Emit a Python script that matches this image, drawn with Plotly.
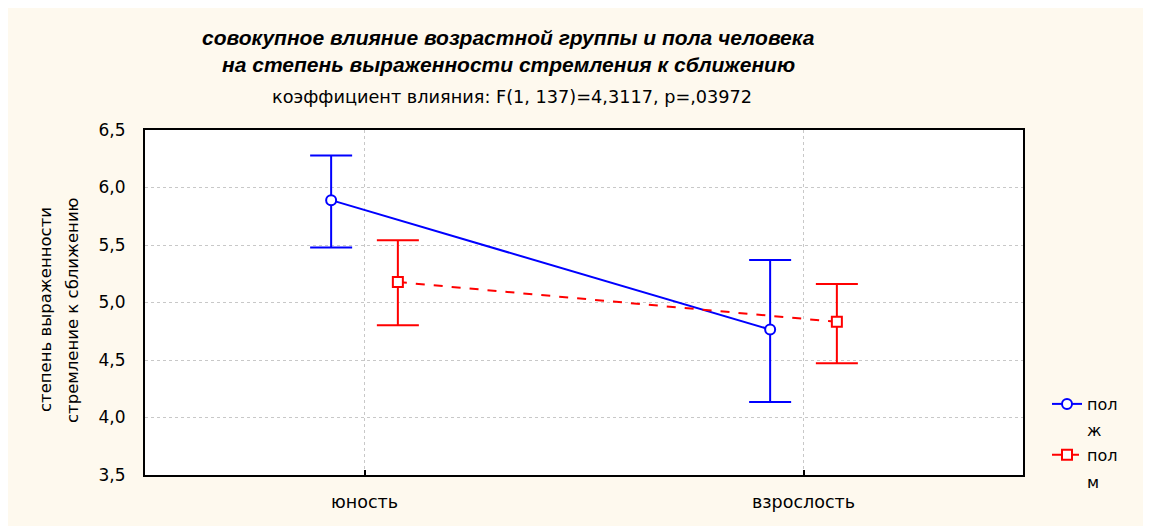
import plotly.graph_objects as go

categories = ["юность", "взрослость"]
legend_names = ["пол", "пол"]
legend_sub = ["ж", "м"]
female_mean = [5.89, 4.765]
female_upper = [6.278, 5.37]
female_lower = [5.478, 4.134]
male_mean = [5.178, 4.832]
male_upper = [5.542, 5.16]
male_lower = [4.803, 4.471]
y_ticks = [3.5, 4.0, 4.5, 5.0, 5.5, 6.0, 6.5]
y_tick_text = ["3,5", "4,0", "4,5", "5,0", "5,5", "6,0", "6,5"]
title_lines = ["совокупное влияние возрастной группы и пола человека",
               "на степень выраженности стремления к сближению"]
subtitle = "коэффициент влияния: F(1, 137)=4,3117, p=,03972"
ytitle_lines = ["степень выраженности", "стремление к сближению"]

FONT = "DejaVu Sans, Liberation Sans, sans-serif"
TFONT = "Liberation Sans, Arial, sans-serif"
offset = 0.076
cat_idx = list(range(len(categories)))

fig = go.Figure()

def add_series(means, upper, lower, name, group, color, symbol, dash, shift):
    fig.add_trace(go.Scatter(
        x=[i + shift for i in cat_idx],
        y=means,
        name=name,
        legendgroup=group,
        mode="lines+markers",
        line=dict(color=color, width=2, dash=dash),
        marker=dict(symbol=symbol, size=10, color="white",
                    line=dict(color=color, width=2)),
        error_y=dict(type="data", symmetric=False,
                     array=[u - m for u, m in zip(upper, means)],
                     arrayminus=[m - l for m, l in zip(means, lower)],
                     color=color, thickness=2, width=21),
    ))

add_series(female_mean, female_upper, female_lower, legend_names[0], "f",
           "#0000FF", "circle", "solid", -offset)
add_series(male_mean, male_upper, male_lower, legend_names[1], "m",
           "#FF0000", "square", "dash", offset)

# page body offset of the figure inside the browser window
OX, OY = 8, 8
W, H = 1151, 526
L = 145 - OX
T = 130 - OY
R = W - (1023 - OX)
B = H - (475 - OY)
pw, ph = W - L - R, H - T - B

def px_x(sx):
    return (sx - OX - L) / pw

def px_y(sy):
    return (H - B - (sy - OY)) / ph

ann = []
for txt, sy in zip(title_lines, [37, 64]):
    ann.append(dict(text="<b><i>" + txt + "</i></b>", x=px_x(508), y=px_y(sy),
                    xref="paper", yref="paper", showarrow=False,
                    font=dict(size=21, family=TFONT),
                    xanchor="center", yanchor="middle"))
ann.append(dict(text=subtitle, x=px_x(512), y=px_y(97), xref="paper",
                yref="paper", showarrow=False, font=dict(size=17.7, family=FONT),
                xanchor="center", yanchor="middle"))
for txt, sx in zip(ytitle_lines, [45, 72]):
    ann.append(dict(text=txt, x=px_x(sx), y=px_y(310), xref="paper",
                    yref="paper", showarrow=False, textangle=-90,
                    font=dict(size=16.5, family=FONT),
                    xanchor="center", yanchor="middle"))
for txt, sy in zip(legend_sub, [430, 482]):
    ann.append(dict(text=txt, x=px_x(1085), y=px_y(sy), xref="paper",
                    yref="paper", showarrow=False, xanchor="left",
                    yanchor="middle", font=dict(size=16, family=FONT)))

fig.update_layout(
    width=W, height=H,
    margin=dict(l=L, r=R, t=T, b=B),
    paper_bgcolor="#FEF9EE",
    plot_bgcolor="white",
    font=dict(family=FONT, color="black"),
    showlegend=True,
    legend=dict(x=px_x(1047), xanchor="left", y=px_y(387), yanchor="top",
                bgcolor="rgba(0,0,0,0)", font=dict(size=16, family=FONT),
                tracegroupgap=27, itemwidth=30),
    xaxis=dict(range=[-0.5, 1.5], tickvals=cat_idx, ticktext=categories,
               showline=True, mirror=True, linecolor="black", linewidth=2,
               ticks="inside", ticklen=5, tickcolor="black", tickwidth=2,
               showgrid=True, gridcolor="#C8C8C8", griddash="3px,3px",
               gridwidth=1, zeroline=False, tickfont=dict(size=17.5),
               ticklabelstandoff=10),
    yaxis=dict(range=[3.5, 6.5], tickvals=y_ticks, ticktext=y_tick_text,
               showline=True, mirror=True, linecolor="black", linewidth=2,
               ticks="", showgrid=True, gridcolor="#C8C8C8",
               griddash="3px,3px", gridwidth=1, zeroline=False,
               tickfont=dict(size=17), ticklabelstandoff=14),
    annotations=ann,
)

fig.write_html("out.html")
